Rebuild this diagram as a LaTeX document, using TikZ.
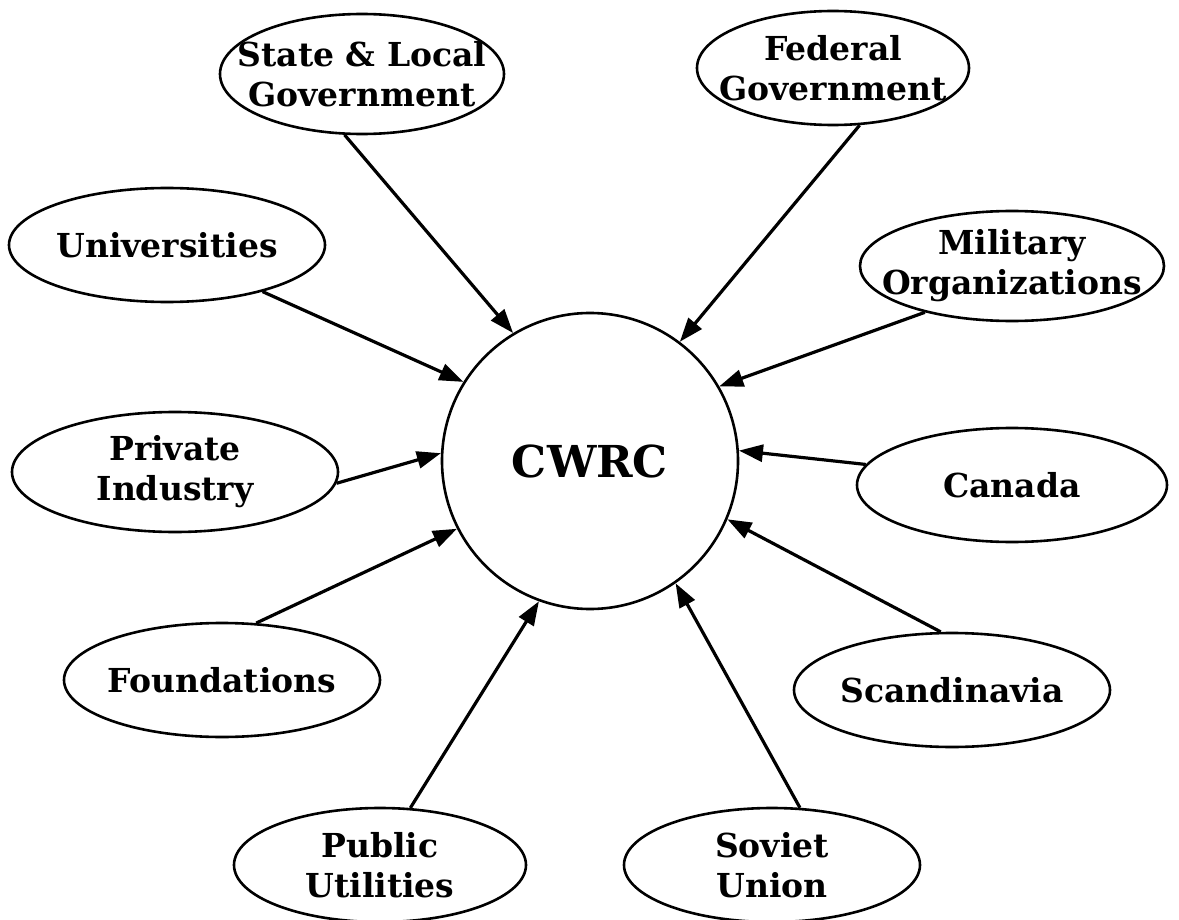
\documentclass[tikz,border=0pt]{standalone}
\usepackage{fontspec}
\setmainfont{DejaVu Serif}
\usetikzlibrary{arrows.meta, shapes.geometric}

\tikzset{
  srctext/.style={font=\bfseries\fontsize{16.5}{20}\selectfont, align=center, inner sep=0pt},
  src/.style={ellipse, draw, line width=1.3pt, inner sep=0pt,
    minimum width=150pt, minimum height=57pt, label={[srctext]center:#1}},
  hub/.style={circle, draw, line width=1.3pt, inner sep=0pt, minimum size=148pt,
    font=\bfseries\fontsize{22}{26}\selectfont},
  feed/.style={->, line width=1.6pt}
}

\begin{document}
\begin{tikzpicture}[x=0.5pt, y=-0.5pt, >={Triangle[length=12pt, width=8.5pt]}]
    \path[use as bounding box, fill=white] (0,0) rectangle (1179,920);

    \node[hub] (cwrc) at (590,461) {CWRC};

    % funding sources round the centre
    \node[src={State \& Local\\Government}, minimum width=142pt, minimum height=60pt] (state) at (362,74) {};
    \node[src={Federal\\Government}, minimum width=136pt] (federal) at (833,68) {};
    \node[src={Universities}, minimum width=158pt] (univ) at (167,245) {};
    \node[src={Military\\Organizations}, minimum width=152pt, minimum height=55pt] (military) at (1012,266) {};
    \node[src={Private\\Industry}, minimum width=163pt, minimum height=60pt] (private) at (175,472) {};
    \node[src={Canada}, minimum width=155pt] (canada) at (1012,485) {};
    \node[src={Foundations}, minimum width=158pt] (found) at (222,680) {};
    \node[src={Scandinavia}, minimum width=158pt] (scand) at (952,690) {};
    \node[src={Public\\Utilities}, minimum width=146pt] (public) at (380,865) {};
    \node[src={Soviet\\Union}, minimum width=148pt] (soviet) at (772,865) {};

    \draw[feed] (state.-106) -- (cwrc.121);
    \draw[feed] (federal.-65) -- (cwrc.53);
    \draw[feed] (univ.-26) -- (cwrc.148);
    \draw[feed] (military.-152) -- (cwrc.30);
    \draw[feed] (private.-4) -- (cwrc.177);
    \draw[feed] (canada.172) -- (cwrc.4);
    \draw[feed] (found.59) -- (cwrc.-153);
    \draw[feed] (scand.101) -- (cwrc.-23);
    \draw[feed] (public.62) -- (cwrc.-110);
    \draw[feed] (soviet.64) -- (cwrc.-55);
  \end{tikzpicture}
\end{document}
